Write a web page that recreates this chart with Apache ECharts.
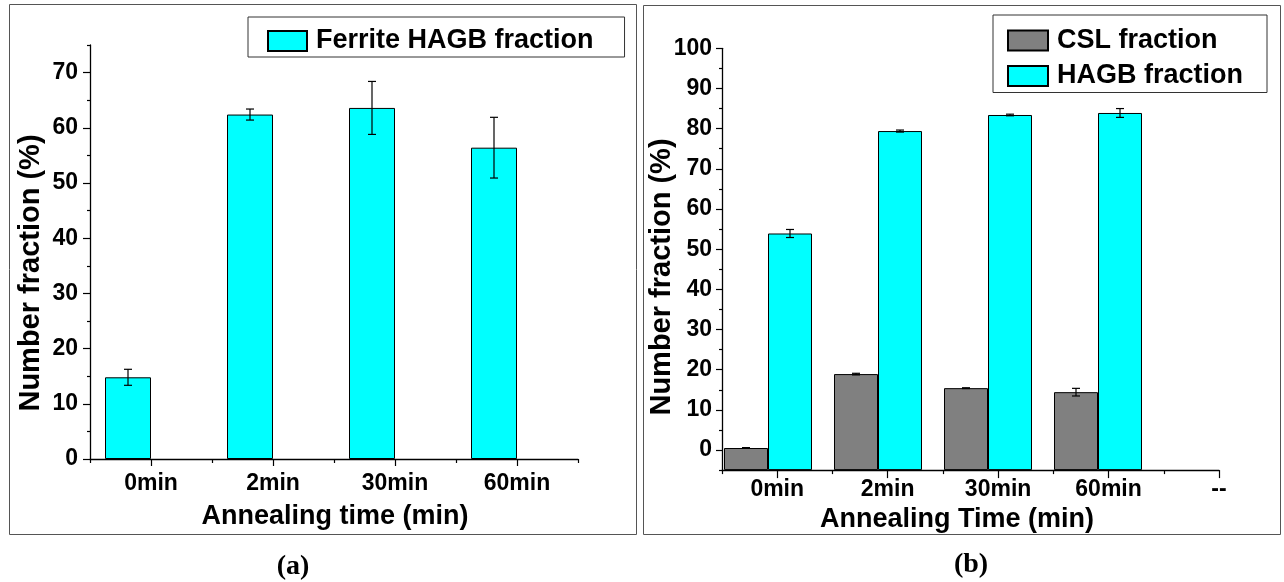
<!DOCTYPE html>
<html>
<head>
<meta charset="utf-8">
<script src="https://cdn.jsdelivr.net/npm/echarts@6/dist/echarts.min.js"></script>
<style>
  html, body { margin: 0; padding: 0; background: #fff; }
  #chart { width: 1284px; height: 582px; }
</style>
</head>
<body>
<div id="chart"></div>
<script>
// ---- Panel (a): ferrite HAGB number fraction ----
const timesA = ['0min', '2min', '30min', '60min'];
const ferriteHagb = [14.8, 62.4, 63.6, 56.4];
const ferriteHagbErr = [1.45, 1.0, 4.8, 5.5];
const yTicksA = [0, 10, 20, 30, 40, 50, 60, 70];
const yMinorA = [5, 15, 25, 35, 45, 55, 65, 75];

// ---- Panel (b): CSL and HAGB number fractions ----
const timesB = ['0min', '2min', '30min', '60min'];
const xLabelsB = ['0min', '2min', '30min', '60min', '--'];
const cslFraction = [0.5, 18.9, 15.4, 14.4];
const cslErr = [0.1, 0.2, 0.1, 0.95];
const hagbFraction = [53.9, 79.4, 83.4, 83.9];
const hagbErr = [1.0, 0.25, 0.2, 1.1];
const yTicksB = [0, 10, 20, 30, 40, 50, 60, 70, 80, 90, 100];
const yMinorB = [-5, 5, 15, 25, 35, 45, 55, 65, 75, 85, 95];

const SANS = '"Liberation Sans", Arial, sans-serif';
const SERIF = '"Liberation Serif", "Times New Roman", serif';
const CYAN = '#00FFFF';
const GREY = '#808080';
const AXIS_LINE = { show: true, onZero: false, lineStyle: { color: '#000', width: 1.3 } };
const TICK_STYLE = { color: '#000', width: 1.2 };
const tickLabel = (margin) => ({
  color: '#000', fontFamily: SANS, fontWeight: 'bold', fontSize: 23, margin: margin
});

// vertical error bar with caps, drawn at the bar centre (offset px from category centre)
function errorBars(xIdx, yIdx, values, errs, offset) {
  const cap = 4;
  return {
    type: 'custom',
    xAxisIndex: xIdx,
    yAxisIndex: yIdx,
    z: 5,
    silent: true,
    encode: { x: 0, y: 1 },
    data: values.map((v, i) => [i, v, errs[i]]),
    renderItem(params, api) {
      const i = api.value(0), v = api.value(1), e = api.value(2);
      const hi = api.coord([i, v + e]);
      const lo = api.coord([i, v - e]);
      const x = hi[0] + offset;
      const style = { stroke: '#000', lineWidth: 1.2 };
      return {
        type: 'group',
        children: [
          { type: 'line', shape: { x1: x, y1: hi[1], x2: x, y2: lo[1] }, style },
          { type: 'line', shape: { x1: x - cap, y1: hi[1], x2: x + cap, y2: hi[1] }, style },
          { type: 'line', shape: { x1: x - cap, y1: lo[1], x2: x + cap, y2: lo[1] }, style }
        ]
      };
    }
  };
}

const barStyle = (color) => ({ color: color, borderColor: '#000', borderWidth: 1 });
const legendText = {
  color: '#000', fontFamily: SANS, fontWeight: 'bold', fontSize: 27, lineHeight: 28,
  padding: [0, 0, 0, 4]
};

const chart = echarts.init(document.getElementById('chart'), null, { renderer: 'canvas' });

chart.setOption({
  animation: false,
  backgroundColor: '#fff',
  grid: [
    { left: 90, right: 706, top: 45, bottom: 123 },       // (a)
    { left: 713, right: 131, top: 48.3, bottom: 111.9 },  // (b) bars
    { left: 722, right: 65, top: 48.3, bottom: 111.9 }    // (b) axes
  ],
  xAxis: [
    // (a) labelled axis, long ticks at category centres
    {
      type: 'category', gridIndex: 0, data: timesA, boundaryGap: true,
      axisLine: AXIS_LINE,
      axisTick: { show: true, alignWithLabel: true, length: 7, lineStyle: TICK_STYLE },
      axisLabel: tickLabel(13),
      splitLine: { show: false }
    },
    // (a) short ticks at category boundaries
    {
      type: 'category', gridIndex: 0, data: timesA, boundaryGap: true, position: 'bottom',
      axisLine: { show: false, onZero: false },
      axisTick: { show: true, length: 4, lineStyle: TICK_STYLE },
      axisLabel: { show: false },
      splitLine: { show: false }
    },
    // (b) bar positions
    { type: 'category', gridIndex: 1, data: timesB, show: false },
    // (b) labelled axis (half-category units)
    {
      type: 'value', gridIndex: 2, min: 0, max: 2 * xLabelsB.length - 1,
      axisLine: AXIS_LINE,
      axisTick: { show: true, length: 8, lineStyle: TICK_STYLE,
        customValues: xLabelsB.map((_, i) => 2 * i + 1) },
      axisLabel: Object.assign(tickLabel(8), {
        customValues: xLabelsB.map((_, i) => 2 * i + 1),
        formatter: (v) => xLabelsB[(v - 1) / 2] || ''
      }),
      splitLine: { show: false }
    },
    {
      type: 'value', gridIndex: 2, min: 0, max: 2 * xLabelsB.length - 1, position: 'bottom',
      axisLine: { show: false, onZero: false },
      axisTick: { show: true, length: 4, lineStyle: TICK_STYLE,
        customValues: xLabelsB.map((_, i) => 2 * i) },
      axisLabel: { show: false },
      splitLine: { show: false }
    }
  ],
  yAxis: [
    // (a)
    {
      type: 'value', gridIndex: 0, min: 0, max: 75,
      axisLine: AXIS_LINE,
      axisTick: { show: true, length: 7, lineStyle: TICK_STYLE, customValues: yTicksA },
      axisLabel: Object.assign(tickLabel(12), { customValues: yTicksA }),
      splitLine: { show: false }
    },
    {
      type: 'value', gridIndex: 0, min: 0, max: 75, position: 'left',
      axisLine: { show: false },
      axisTick: { show: true, length: 3, lineStyle: TICK_STYLE, customValues: yMinorA },
      axisLabel: { show: false },
      splitLine: { show: false }
    },
    // (b) bars, rising from the bottom of the axis
    { type: 'value', gridIndex: 1, min: -5, max: 100, startValue: -5, show: false },
    // (b) visible axis
    {
      type: 'value', gridIndex: 2, min: -5, max: 100,
      axisLine: AXIS_LINE,
      axisTick: { show: true, length: 6, lineStyle: TICK_STYLE, customValues: yTicksB },
      axisLabel: Object.assign(tickLabel(10), { customValues: yTicksB }),
      splitLine: { show: false }
    },
    {
      type: 'value', gridIndex: 2, min: -5, max: 100, position: 'left',
      axisLine: { show: false },
      axisTick: { show: true, length: 3, lineStyle: TICK_STYLE, customValues: yMinorB },
      axisLabel: { show: false },
      splitLine: { show: false }
    }
  ],
  legend: [
    {
      data: [{ name: 'Ferrite HAGB fraction', icon: 'rect' }],
      left: 248, top: 17, orient: 'vertical',
      padding: [10, 31, 2, 19],
      itemWidth: 39, itemHeight: 20,
      borderColor: '#333', borderWidth: 1,
      selectedMode: false,
      textStyle: legendText
    },
    {
      data: [{ name: 'CSL fraction', icon: 'rect' }, { name: 'HAGB fraction', icon: 'rect' }],
      left: 993, top: 15, orient: 'vertical',
      padding: [11.5, 24, 2.5, 14],
      itemGap: 7.5,
      itemWidth: 40, itemHeight: 20,
      borderColor: '#333', borderWidth: 1,
      selectedMode: false,
      textStyle: legendText
    }
  ],
  series: [
    {
      name: 'Ferrite HAGB fraction', type: 'bar', xAxisIndex: 0, yAxisIndex: 0,
      data: ferriteHagb, barWidth: 46, barGap: '0%', itemStyle: barStyle(CYAN), silent: true
    },
    {
      type: 'bar', xAxisIndex: 0, yAxisIndex: 0,
      data: timesA.map(() => null), barWidth: 46, barGap: '0%', itemStyle: barStyle(CYAN), silent: true
    },
    errorBars(0, 0, ferriteHagb, ferriteHagbErr, -23),

    {
      name: 'CSL fraction', type: 'bar', xAxisIndex: 2, yAxisIndex: 2,
      data: cslFraction, barWidth: 44, barGap: '0%', itemStyle: barStyle(GREY), silent: true
    },
    {
      name: 'HAGB fraction', type: 'bar', xAxisIndex: 2, yAxisIndex: 2,
      data: hagbFraction, barWidth: 44, barGap: '0%', itemStyle: barStyle(CYAN), silent: true
    },
    errorBars(2, 2, cslFraction, cslErr, -22),
    errorBars(2, 2, hagbFraction, hagbErr, 22)
  ],
  graphic: [
    { type: 'rect', silent: true, shape: { x: 9.5, y: 4.5, width: 627, height: 530 },
      style: { fill: 'none', stroke: '#555', lineWidth: 1 } },
    { type: 'rect', silent: true, shape: { x: 643.5, y: 5.5, width: 637, height: 529 },
      style: { fill: 'none', stroke: '#555', lineWidth: 1 } },

    { type: 'text', silent: true, x: 31, y: 273, rotation: Math.PI / 2,
      style: { text: 'Number fraction (%)', font: 'bold 29px ' + SANS, fill: '#000',
        textAlign: 'center', textVerticalAlign: 'middle' } },
    { type: 'text', silent: true, x: 335, y: 517,
      style: { text: 'Annealing time (min)', font: 'bold 27px ' + SANS, fill: '#000',
        textAlign: 'center', textVerticalAlign: 'middle' } },
    { type: 'text', silent: true, x: 293, y: 567,
      style: { text: '(a)', font: 'bold 28px ' + SERIF, fill: '#000',
        textAlign: 'center', textVerticalAlign: 'middle' } },

    { type: 'text', silent: true, x: 662, y: 277, rotation: Math.PI / 2,
      style: { text: 'Number fraction (%)', font: 'bold 29px ' + SANS, fill: '#000',
        textAlign: 'center', textVerticalAlign: 'middle' } },
    { type: 'text', silent: true, x: 957, y: 520,
      style: { text: 'Annealing Time (min)', font: 'bold 27px ' + SANS, fill: '#000',
        textAlign: 'center', textVerticalAlign: 'middle' } },
    { type: 'text', silent: true, x: 971, y: 565,
      style: { text: '(b)', font: 'bold 28px ' + SERIF, fill: '#000',
        textAlign: 'center', textVerticalAlign: 'middle' } }
  ]
});
</script>
</body>
</html>
